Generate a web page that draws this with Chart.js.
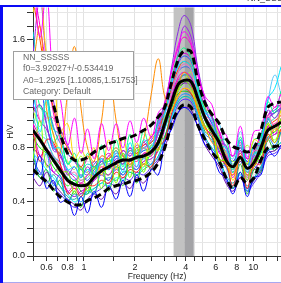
<!DOCTYPE html>
<html>
<head>
<meta charset="utf-8">
<script src="https://cdn.jsdelivr.net/npm/chart.js@4.4.1/dist/chart.umd.min.js"></script>
<style>
  html, body { margin: 0; padding: 0; background: #fff; }
  #wrap { position: relative; width: 281px; height: 283px; overflow: hidden; background: #fff; }
  #hv { position: absolute; left: 0; top: 0; }
  .frame-left { position: absolute; left: 0; top: 5px; width: 3px; height: 278px; background: #0a0af5; }
  .frame-top { position: absolute; left: 0; top: 5px; width: 281px; height: 2px; background: #0a0af5; }
  .frame-bottom { position: absolute; left: 3px; top: 282px; width: 278px; height: 1px; background: #a8a8f0; }
  .doc-title { position: absolute; left: 247px; top: -7px; font: 9px "Liberation Sans", Arial, sans-serif; color: #333; white-space: nowrap; }
  .info-box {
    position: absolute; left: 13px; top: 51px; width: 121px; height: 49px;
    background: #fff; border: 1px solid #a0a0a0; box-sizing: border-box;
    padding: 0 0 0 9px; font: 8.7px "Liberation Sans", Arial, sans-serif;
    line-height: 11.4px; color: #666; white-space: nowrap;
  }
</style>
</head>
<body>
<div id="wrap">
  <canvas id="hv" width="281" height="283"></canvas>
  <div class="frame-top"></div>
  <div class="frame-left"></div>
  <div class="frame-bottom"></div>
  <div class="doc-title">NN_SSSSS</div>
  <div class="info-box">
    NN_SSSSS<br>
    f0=3.92027+/-0.534419<br>
    A0=1.2925 [1.10085,1.51753]<br>
    Category: Default
  </div>
</div>
<script>
// frequency samples (Hz)
const freqs = [0.5,0.55,0.6,0.66,0.72,0.8,0.88,0.96,1.05,1.15,1.27,1.4,1.55,1.7,1.87,2.05,2.25,2.5,2.75,3.0,
               3.3,3.6,3.9,4.3,4.7,5.2,5.7,6.3,6.9,7.6,8.4,9.2,10.1,11.1,12.2,13.4,14.6];

// average H/V and +/- std curves
const meanHV  = [0.93,0.86,0.785,0.71,0.64,0.56,0.53,0.52,0.53,0.585,0.63,0.66,0.69,0.71,0.71,0.73,0.74,0.77,0.84,0.98,
                 1.14,1.27,1.30,1.29,1.17,1.02,0.93,0.84,0.71,0.66,0.73,0.65,0.69,0.80,0.93,0.96,0.99];
const upperHV = [1.40,1.32,1.24,1.12,0.92,0.76,0.71,0.71,0.73,0.77,0.80,0.83,0.85,0.87,0.88,0.90,0.93,0.97,1.03,1.10,
                 1.29,1.45,1.52,1.51,1.30,1.13,1.05,0.98,0.87,0.81,0.79,0.77,0.80,0.93,1.10,1.13,1.14];
const lowerHV = [0.64,0.59,0.55,0.49,0.44,0.40,0.38,0.38,0.41,0.43,0.46,0.50,0.52,0.53,0.55,0.56,0.58,0.62,0.69,0.80,
                 0.98,1.08,1.12,1.10,0.97,0.86,0.77,0.70,0.58,0.50,0.58,0.54,0.58,0.71,0.80,0.81,0.82];

// individual time windows
const windowCurves = [
  [2.10,1.62,1.95,1.30,1.18,0.82,1.02,0.76,0.94,0.72,0.98,0.78,0.98,0.80,1.00,0.84,1.02,0.88,1.06,1.12,1.38,1.56,1.66,1.58,1.36,1.18,1.12,0.92,0.90,0.74,0.96,0.72,0.92,0.94,1.18,1.10,1.20],
  [0.58,0.74,0.50,0.56,0.40,0.42,0.30,0.44,0.32,0.48,0.36,0.52,0.42,0.56,0.44,0.60,0.48,0.64,0.60,0.84,0.94,1.06,1.10,1.06,0.96,0.82,0.78,0.62,0.58,0.46,0.62,0.44,0.58,0.60,0.78,0.74,0.82],
  [1.26,0.92,1.16,0.80,0.80,0.64,0.66,0.58,0.64,0.60,0.72,0.64,0.78,0.62,0.84,0.66,0.86,0.80,0.98,1.06,1.28,1.40,1.44,1.40,1.22,1.06,1.00,0.82,0.80,0.64,0.86,0.62,0.82,0.84,1.16,1.24,1.40],
  [0.72,1.00,0.66,0.70,0.62,0.62,0.46,0.66,0.48,0.66,0.50,0.72,0.54,0.76,0.58,0.80,0.62,0.82,0.78,1.02,1.12,1.24,1.30,1.24,1.12,0.96,0.96,0.72,0.70,0.64,0.74,0.56,0.72,0.72,0.98,0.84,1.02],
  [1.40,1.70,1.10,0.90,0.76,1.20,1.55,1.10,0.80,0.70,1.00,1.38,1.00,0.74,0.68,0.74,0.86,1.20,1.46,1.18,1.08,1.24,1.36,1.28,1.08,0.96,0.84,0.80,0.68,0.60,0.72,0.60,0.66,0.78,0.86,0.94,0.92],
  [1.06,1.12,0.98,0.78,0.76,0.60,0.66,0.58,0.66,0.60,0.70,0.64,0.74,0.68,0.80,0.72,0.84,0.78,1.00,1.12,1.40,1.66,1.78,1.70,1.40,1.16,1.04,0.84,0.82,0.66,0.86,0.64,0.82,0.82,1.08,1.02,1.10],
  [1.80,2.05,1.50,1.38,0.92,0.98,0.72,0.78,0.72,0.80,0.60,0.86,0.64,0.88,0.66,0.84,0.66,0.90,0.78,0.98,1.08,1.18,1.24,1.22,1.08,0.94,0.94,0.70,0.72,0.56,0.74,0.68,0.86,0.84,0.98,0.92,1.08],
  [0.92,0.70,0.86,0.84,0.70,0.46,0.50,0.44,0.52,0.52,0.56,0.54,0.62,0.58,0.64,0.62,0.68,0.66,0.80,0.86,1.06,1.18,1.24,1.20,1.10,0.94,0.90,0.72,0.68,0.52,0.74,0.50,0.68,0.68,0.90,0.84,0.94],
  [1.36,1.00,1.02,1.02,0.86,0.60,0.62,0.56,0.60,0.60,0.66,0.64,0.70,0.70,0.76,0.72,0.80,0.78,0.96,0.98,1.22,1.36,1.42,1.38,1.20,1.04,1.00,0.80,0.78,0.60,0.84,0.58,0.78,0.78,1.04,0.96,1.12],
  [0.78,0.60,0.76,0.52,0.60,0.40,0.46,0.40,0.48,0.46,0.62,0.56,0.66,0.60,0.68,0.64,0.72,0.68,0.82,0.84,1.04,1.16,1.20,1.18,1.06,0.90,0.86,0.68,0.66,0.50,0.72,0.48,0.66,0.64,0.88,0.82,0.92],
  [1.46,1.10,1.06,0.84,0.90,0.68,0.76,0.58,0.76,0.60,0.82,0.64,0.86,0.66,0.90,0.72,0.92,0.78,1.02,1.10,1.32,1.48,1.54,1.46,1.26,1.08,1.04,0.86,0.86,0.66,0.88,0.68,0.86,0.88,1.14,1.06,1.22],
  [0.98,0.74,0.80,0.62,0.66,0.48,0.52,0.46,0.54,0.56,0.62,0.60,0.68,0.64,0.70,0.66,0.76,0.74,0.92,0.98,1.18,1.32,1.36,1.32,1.18,1.02,0.96,0.76,0.74,0.58,0.78,0.56,0.74,0.70,0.96,0.90,1.02],
  [0.58,0.52,0.62,0.54,0.48,0.42,0.38,0.34,0.42,0.46,0.42,0.50,0.46,0.54,0.50,0.58,0.54,0.64,0.70,0.80,0.96,1.06,1.10,1.08,0.96,0.82,0.74,0.66,0.54,0.48,0.58,0.50,0.56,0.64,0.76,0.78,0.82],
  [1.66,1.30,1.22,0.94,0.90,0.68,0.72,0.64,0.68,0.66,0.70,0.70,0.74,0.72,0.78,0.74,0.80,0.76,0.92,0.94,1.16,1.28,1.34,1.32,1.16,1.00,0.96,0.78,0.78,0.62,0.82,0.58,0.76,0.76,1.02,0.92,1.10],
  [0.74,0.58,0.64,0.48,0.56,0.40,0.48,0.36,0.52,0.46,0.64,0.48,0.68,0.52,0.72,0.54,0.74,0.64,0.86,0.88,1.10,1.20,1.22,1.20,1.08,0.92,0.88,0.68,0.68,0.50,0.68,0.46,0.64,0.62,0.86,0.78,0.92],
  [1.02,0.90,0.86,0.74,0.70,0.64,0.60,0.58,0.64,0.62,0.68,0.66,0.74,0.68,0.76,0.72,0.80,0.82,0.90,1.04,1.22,1.36,1.42,1.38,1.24,1.08,1.02,0.98,0.80,0.72,0.92,0.74,0.74,0.88,1.14,1.34,1.20],
  [1.90,1.60,1.30,1.10,0.92,0.80,0.72,0.66,0.74,0.66,0.74,0.72,0.78,0.70,0.78,0.76,0.82,0.84,0.92,1.08,1.24,1.38,1.44,1.40,1.22,1.04,0.94,0.84,0.74,0.66,0.76,0.64,0.70,0.82,0.96,1.00,1.04],
  [0.80,0.74,0.68,0.62,0.58,0.48,0.44,0.48,0.50,0.56,0.60,0.56,0.64,0.60,0.66,0.64,0.70,0.72,0.78,0.94,1.10,1.24,1.28,1.26,1.12,0.96,0.88,0.78,0.66,0.60,0.70,0.60,0.64,0.72,0.86,0.90,0.92],
  [1.08,0.96,1.14,0.90,0.78,0.70,0.64,0.74,0.62,0.58,0.68,0.72,0.80,0.70,0.66,0.76,0.80,0.74,0.86,0.98,1.12,1.22,1.30,1.36,1.22,1.10,1.04,0.88,0.76,0.70,0.72,0.82,0.76,0.86,0.90,0.86,0.94],
  [0.98,0.88,0.80,0.74,0.68,0.56,0.50,0.54,0.52,0.62,0.66,0.64,0.70,0.68,0.72,0.70,0.76,0.78,0.86,1.00,1.18,1.30,1.34,1.32,1.18,1.02,0.92,0.84,0.70,0.64,0.74,0.62,0.70,0.80,0.94,0.98,1.00],
  [1.30,1.50,1.20,0.96,0.84,0.76,0.70,0.64,0.60,0.68,0.72,0.68,0.76,0.74,0.70,0.78,0.80,0.84,0.92,1.06,1.22,1.36,1.40,1.38,1.22,1.04,0.96,0.86,0.74,0.70,0.78,0.68,0.74,0.86,1.00,1.06,1.08],
  [0.64,0.58,0.54,0.60,0.52,0.44,0.42,0.46,0.46,0.50,0.54,0.58,0.56,0.62,0.62,0.60,0.64,0.68,0.74,0.88,1.04,1.14,1.18,1.16,1.04,0.88,0.80,0.72,0.60,0.54,0.62,0.52,0.58,0.66,0.78,0.80,0.84],
  [2.00,1.70,1.40,1.06,0.88,0.76,0.70,0.64,0.72,0.76,0.70,0.74,0.80,0.74,0.80,0.76,0.84,0.88,0.98,1.14,1.36,1.54,1.62,1.56,1.34,1.14,1.02,0.92,0.80,0.74,0.82,0.72,0.78,0.90,1.04,1.10,1.12],
  [0.88,0.80,0.76,0.66,0.60,0.52,0.56,0.48,0.46,0.58,0.64,0.60,0.66,0.64,0.70,0.72,0.68,0.76,0.82,0.96,1.10,1.22,1.28,1.30,1.16,1.00,0.90,0.84,0.68,0.62,0.70,0.62,0.66,0.76,0.88,0.92,0.96],
  [1.10,1.30,0.98,0.80,0.76,0.62,0.56,0.60,0.56,0.64,0.70,0.64,0.72,0.70,0.76,0.74,0.78,0.80,0.90,1.06,1.26,1.42,1.48,1.44,1.26,1.08,0.98,0.88,0.74,0.70,0.80,0.70,0.76,0.88,1.04,1.08,1.12],
  [1.50,1.90,1.45,1.15,0.96,0.82,0.72,0.66,0.62,0.70,0.64,0.74,0.70,0.78,0.74,0.82,0.80,0.86,0.94,1.10,1.30,1.50,1.70,1.62,1.38,1.14,1.02,0.92,0.80,0.74,0.84,0.72,0.78,0.90,1.04,1.06,1.10],
  [0.76,0.70,0.64,0.58,0.52,0.46,0.40,0.44,0.48,0.50,0.54,0.52,0.58,0.56,0.62,0.60,0.66,0.68,0.74,0.88,1.02,1.14,1.18,1.16,1.04,0.88,0.80,0.72,0.58,0.52,0.60,0.50,0.56,0.66,0.78,0.80,0.84],
  [1.12,1.00,0.94,0.82,0.74,0.64,0.58,0.54,0.60,0.66,0.70,0.76,0.70,0.78,0.74,0.80,0.82,0.88,0.96,1.12,1.30,1.44,1.50,1.46,1.28,1.10,0.98,0.90,0.76,0.70,0.80,0.70,0.76,0.88,1.02,1.06,1.10],
  [0.96,1.12,0.88,0.74,0.66,0.58,0.54,0.56,0.58,0.64,0.68,0.70,0.74,0.76,0.72,0.76,0.78,0.80,0.86,1.00,1.16,1.28,1.34,1.30,1.18,1.02,0.94,0.86,0.74,0.68,0.76,0.68,0.72,0.84,0.98,1.02,1.08],
  [0.70,0.62,0.56,0.50,0.46,0.40,0.36,0.38,0.40,0.46,0.50,0.54,0.52,0.58,0.56,0.62,0.60,0.66,0.72,0.86,1.00,1.12,1.16,1.14,1.02,0.86,0.78,0.70,0.56,0.50,0.58,0.48,0.54,0.62,0.74,0.76,0.80]
];
const windowColors = ['#ff00ff','#0000ff','#00e5ff','#7fff00','#ff8c00','#8a2be2','#ffd700','#ff2020',
                      '#ff69b4','#1e90ff','#00ff7f','#e000e0','#6a0dad','#00ced1','#22c022','#5ac8fa',
                      '#ff4500','#9400d3','#adff2f','#ff1493','#4169e1','#20b2aa','#ff00cc','#00ff00',
                      '#3050ff','#a020f0','#00ffff','#d000d0','#40e0a0','#5a2cff'];

// f0 +/- std band
const f0Band = [3.386, 3.92027, 4.454];

// axis ticks
const xTicks = [0.5,0.6,0.7,0.8,0.9,1,1.5,2,2.5,3,3.5,4,4.5,5,6,7,8,9,10,12,14];
const xTickLabels = [0.6,0.8,1,2,4,6,8,10];
const yTicks = [0,0.1,0.2,0.3,0.4,0.5,0.6,0.7,0.8,0.9,1,1.1,1.2,1.3,1.4,1.5,1.6,1.7,1.8];
const yTickLabels = [0,0.4,0.8,1.2,1.6];

const toPoints = vals => freqs.map((f, i) => ({ x: f, y: vals[i] }));

const datasets = [
  { data: toPoints(meanHV),  borderColor: '#000', borderWidth: 3 },
  { data: toPoints(upperHV), borderColor: '#000', borderWidth: 3, borderDash: [7, 4] },
  { data: toPoints(lowerHV), borderColor: '#000', borderWidth: 3, borderDash: [7, 4] },
  ...windowCurves.map((w, i) => ({ data: toPoints(w), borderColor: windowColors[i % windowColors.length], borderWidth: 1, tension: 0.4 }))
];

const bandPlugin = {
  id: 'f0band',
  beforeDatasetsDraw(chart) {
    const { ctx, chartArea, scales } = chart;
    const x0 = scales.x.getPixelForValue(f0Band[0]);
    const x1 = scales.x.getPixelForValue(f0Band[1]);
    const x2 = scales.x.getPixelForValue(f0Band[2]);
    ctx.save();
    ctx.fillStyle = '#c2c2c2';
    ctx.fillRect(x0, chartArea.top, x1 - x0, chartArea.bottom - chartArea.top);
    ctx.fillStyle = '#a3a3a6';
    ctx.fillRect(x1, chartArea.top, x2 - x1, chartArea.bottom - chartArea.top);
    ctx.restore();
  }
};

const tickFont = { family: 'Liberation Sans', size: 9 };

new Chart(document.getElementById('hv').getContext('2d'), {
  type: 'line',
  data: { datasets },
  options: {
    responsive: false,
    animation: false,
    devicePixelRatio: 1,
    layout: { padding: { left: 0, right: 0, top: 7, bottom: 0 }, autoPadding: false },
    plugins: { legend: { display: false }, tooltip: { enabled: false } },
    elements: { point: { radius: 0 }, line: { tension: 0.35, fill: false } },
    scales: {
      x: {
        type: 'logarithmic',
        min: 0.5,
        max: 14.6,
        afterBuildTicks: s => { s.ticks = xTicks.map(v => ({ value: v })); },
        afterFit: s => { s.height = 27; },
        ticks: {
          autoSkip: false, maxRotation: 0, padding: 1,
          font: tickFont, color: '#222',
          callback: v => xTickLabels.includes(v) ? String(v) : ''
        },
        grid: { color: '#e2e2e2', tickLength: 5, tickColor: '#333' },
        border: { color: '#333' },
        title: { display: true, text: 'Frequency (Hz)', font: { family: 'Liberation Sans', size: 8.5 }, color: '#222', padding: { top: 0, bottom: 1 } }
      },
      y: {
        min: 0,
        max: 1.84,
        afterBuildTicks: s => { s.ticks = yTicks.map(v => ({ value: v })); },
        afterFit: s => { s.width = 33; },
        ticks: {
          autoSkip: false, padding: 2,
          font: tickFont, color: '#222',
          callback: v => yTickLabels.includes(v) ? v.toFixed(1) : ''
        },
        grid: { color: '#e6e6e6', tickLength: 6, tickColor: '#333' },
        border: { color: '#333' },
        title: { display: true, text: 'H/V', font: { family: 'Liberation Sans', size: 8.5 }, color: '#222', padding: { top: 6, bottom: 0 } }
      }
    }
  },
  plugins: [bandPlugin]
});
</script>
</body>
</html>
